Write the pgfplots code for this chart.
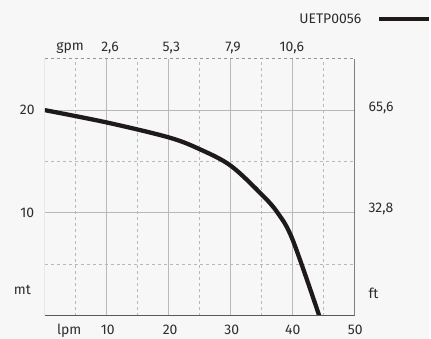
\documentclass[border=0pt]{standalone}
\usepackage{pgfplots}
\pgfplotsset{compat=1.18}
\usepackage{fontspec}
\setmainfont{Fira Sans}
\definecolor{bg}{RGB}{247,247,247}
\definecolor{txt}{RGB}{45,45,45}
\definecolor{gridc}{RGB}{185,185,185}
\definecolor{curvec}{RGB}{30,26,26}
\begin{document}
\begin{tikzpicture}[x=1pt,y=1pt]
\fill[bg] (0,0) rectangle (431,340);
\begin{axis}[at={(45pt,23pt)}, anchor=south west, scale only axis,
  width=311pt, height=258pt,
  xmin=0, xmax=50, ymin=0, ymax=25,
  axis line style={draw=none},
  xtick={10,20,30,40}, minor xtick={5,15,25,35,45},
  ytick={10,20}, minor ytick={5,15},
  xticklabels={}, yticklabels={},
  major tick length=0pt, minor tick length=0pt,
  xmajorgrids, ymajorgrids, xminorgrids, yminorgrids,
  major grid style={gridc, line width=0.9pt},
  minor grid style={gridc, dashed, line width=0.7pt},
  clip=true]
\addplot[curvec, line width=4.3pt, smooth, tension=0.55] coordinates {
 (0,20) (10,18.8) (20,17.35) (25,16.2) (30,14.6) (35,11.8) (37.6,10) (40,7.4) (44.3,0)
};
\draw[gridc!80!black, dashed, line width=0.8pt] (rel axis cs:0,1) -- (rel axis cs:1,1);
\draw[gray, line width=0.9pt] (rel axis cs:0,0) -- (rel axis cs:0,1);
\draw[black!75, line width=1.2pt] (rel axis cs:1,0) -- (rel axis cs:1,1);
\draw[black!65, line width=1.8pt] (rel axis cs:0,0) -- (rel axis cs:1,0);
\end{axis}
\begin{scope}[every node/.style={text=txt, font=\fontsize{14}{16}\selectfont, inner sep=0pt}]
\node at (331.7,321.3) {UETP0056};
\draw[curvec, line width=3.6pt] (381,321) -- (431,321);
\node at (70.5,292.3) {gpm};
\node at (110.5,292.3) {2,6};
\node at (172,292.3) {5,3};
\node at (234,292.3) {7,9};
\node at (293,292.3) {10,6};
\node at (69.5,8.3) {lpm};
\node at (108.3,8.3) {10};
\node at (170.8,8.3) {20};
\node at (232.8,8.3) {30};
\node at (294,8.3) {40};
\node at (356.8,8.3) {50};
\node[anchor=east] at (35,230) {20};
\node[anchor=east] at (34.5,126.7) {10};
\node at (22.5,49) {mt};
\node[anchor=west] at (370,231.7) {65,6};
\node[anchor=west] at (370,130) {32,8};
\node[anchor=west] at (370,45.7) {ft};
\end{scope}
\end{tikzpicture}
\end{document}
